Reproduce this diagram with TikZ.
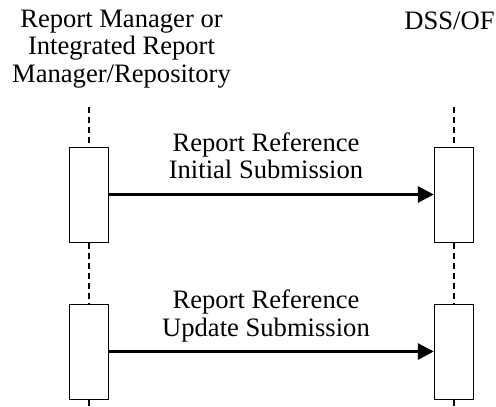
\documentclass[tikz,border=0pt]{standalone}
\usepackage{fontspec}
\setmainfont{Liberation Serif}
\usetikzlibrary{arrows.meta}

\tikzset{
  act/.style={draw,line width=1pt,fill=white,minimum width=39pt,minimum height=95pt,inner sep=0pt},
  life/.style={line width=2pt,dash pattern=on 6pt off 4pt},
  msg/.style={line width=3pt,-{Triangle[length=16pt,width=16pt]}},
  lbl/.style={align=center,inner sep=0pt,font=\fontsize{26.6}{27.5}\selectfont}
}

\begin{document}
\begin{tikzpicture}[x=1pt,y=-1pt]
  \useasboundingbox (0,0) rectangle (496,407);
  % participants
  \node[lbl] (rm) at (121.5,49) {Report Manager or\\Integrated Report\\Manager/Repository};
  \node[lbl,anchor=base] (dss) at (449.5,29) {DSS/OF};
  % activation boxes
  \node[act] (a1) at (88.8,194.5) {};
  \node[act] (a2) at (88.8,351.5) {};
  \node[act] (b1) at (453.8,194.5) {};
  \node[act] (b2) at (453.8,351.5) {};
  \coordinate (atop) at (88.8,107);
  \coordinate (abot) at (88.8,407);
  \coordinate (btop) at (453.8,107);
  \coordinate (bbot) at (453.8,407);
  % lifelines
  \draw[life] (atop)--(a1.north);
  \draw[life] (a1.south)--(a2.north);
  \draw[life] (a2.south)--(abot);
  \draw[life] (btop)--(b1.north);
  \draw[life] (b1.south)--(b2.north);
  \draw[life] (b2.south)--(bbot);
  % messages
  \draw[msg] (a1.east)--(b1.west);
  \draw[msg] (a2.east)--(b2.west);
  \node[lbl] (m1) at (266,156) {Report Reference\\Initial Submission};
  \node[lbl] (m2) at (266,316) {Report Reference\\Update Submission};
\end{tikzpicture}
\end{document}
